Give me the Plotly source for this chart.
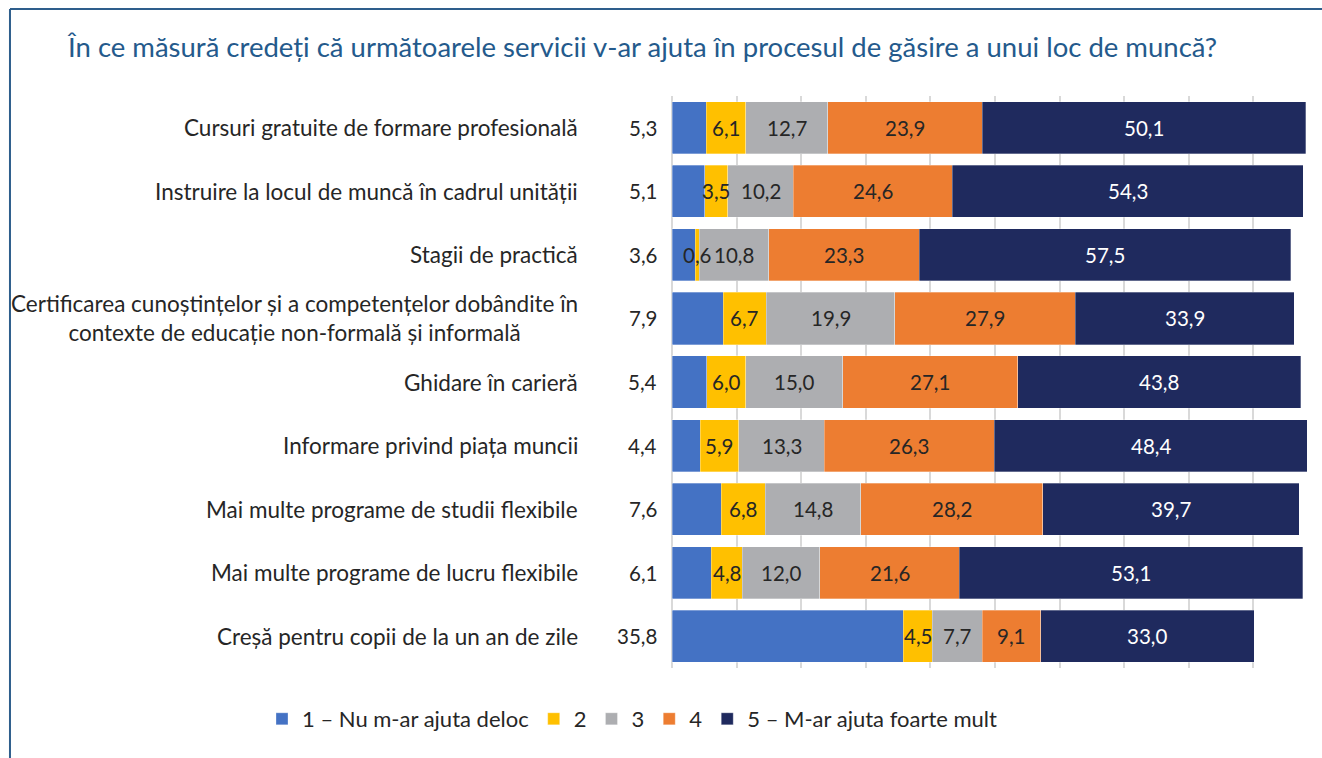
import plotly.graph_objects as go

# Survey categories (top to bottom)
categories = [
    "Cursuri gratuite de formare profesională",
    "Instruire la locul de muncă în cadrul unității",
    "Stagii de practică",
    "Certificarea cunoștințelor și a competențelor dobândite în<br>contexte de educație non-formală și informală",
    "Ghidare în carieră",
    "Informare privind piața muncii",
    "Mai multe programe de studii flexibile",
    "Mai multe programe de lucru flexibile",
    "Creșă pentru copii de la un an de zile",
]

# Share of answers (%) on each scale level
s1 = [5.3, 5.1, 3.6, 7.9, 5.4, 4.4, 7.6, 6.1, 35.8]
s2 = [6.1, 3.5, 0.6, 6.7, 6.0, 5.9, 6.8, 4.8, 4.5]
s3 = [12.7, 10.2, 10.8, 19.9, 15.0, 13.3, 14.8, 12.0, 7.7]
s4 = [23.9, 24.6, 23.3, 27.9, 27.1, 26.3, 28.2, 21.6, 9.1]
s5 = [50.1, 54.3, 57.5, 33.9, 43.8, 48.4, 39.7, 53.1, 33.0]

series_names = ["1 – Nu m-ar ajuta deloc", "2", "3", "4", "5 – M-ar ajuta foarte mult"]
series_values = [s1, s2, s3, s4, s5]
colors = ["#4472C4", "#FFC000", "#ADAEB1", "#ED7D31", "#1F2A5E"]
label_colors = ["#262626", "#262626", "#262626", "#262626", "#FFFFFF"]

title_text = "În ce măsură credeți că următoarele servicii v-ar ajuta în procesul de găsire a unui loc de muncă?"

FONT = "Lato, 'Open Sans', sans-serif"

fig = go.Figure()
for name, vals, col in zip(series_names, series_values, colors):
    fig.add_trace(go.Bar(
        y=categories, x=vals, name=name, orientation="h",
        marker=dict(color=col, line=dict(color="rgba(255,255,255,0.6)", width=0.5)),
        hoverinfo="x+name",
    ))

def fmt(v):
    return f"{v:.1f}".replace(".", ",")

annotations = []
# Category names, left of the value column
for cat in categories:
    annotations.append(dict(
        x=0, y=cat, xref="x", yref="y", text=cat, showarrow=False,
        xanchor="right", align="center", xshift=-92,
        font=dict(family=FONT, size=22.5, color="#262626"),
    ))

# Segment value labels
for k, vals in enumerate(series_values):
    for j, cat in enumerate(categories):
        start = sum(series_values[m][j] for m in range(k))
        v = vals[j]
        if k == 0:
            annotations.append(dict(
                x=0, y=cat, xref="x", yref="y", text=fmt(v), showarrow=False,
                xanchor="right", xshift=-13,
                font=dict(family=FONT, size=20.5, color="#262626"),
            ))
        else:
            annotations.append(dict(
                x=start + v / 2, y=cat, xref="x", yref="y", text=fmt(v),
                showarrow=False, xanchor="center",
                font=dict(family=FONT, size=20.5, color=label_colors[k]),
            ))

frame_color = "#2E5E8C"
shapes = [
    dict(type="line", xref="paper", yref="paper",
         x0=-1.0248, x1=1.02, y0=1.152, y1=1.152,
         line=dict(color=frame_color, width=2)),
    dict(type="line", xref="paper", yref="paper",
         x0=-1.0248, x1=-1.0248, y0=1.152, y1=-0.2,
         line=dict(color=frame_color, width=2)),
]

fig.update_layout(
    title=dict(text=title_text, xref="container", yref="container",
               x=68 / 1322, y=1 - 47 / 758, xanchor="left", yanchor="middle",
               font=dict(family=FONT, size=27.5, color="#245A8C")),
    barmode="stack",
    bargap=0.18,
    width=1322, height=758,
    margin=dict(l=672, r=4, t=96, b=90),
    paper_bgcolor="white", plot_bgcolor="white",
    font=dict(family=FONT, size=19, color="#262626"),
    xaxis=dict(range=[0, 100], dtick=10, showticklabels=False,
               showgrid=True, gridcolor="#D9D9D9", gridwidth=1.5,
               zeroline=True, zerolinecolor="#D9D9D9", zerolinewidth=1.5,
               showline=False, ticks="", fixedrange=True),
    yaxis=dict(autorange="reversed", showticklabels=False, showgrid=False,
               showline=False, ticks="", fixedrange=True),
    legend=dict(orientation="h", xref="paper", yref="paper",
                x=(262 - 672) / 646, y=-(719 - 668) / 572,
                xanchor="left", yanchor="middle",
                font=dict(family=FONT, size=22, color="#262626"),
                itemwidth=30, traceorder="normal"),
    annotations=annotations,
    shapes=shapes,
    showlegend=True,
)

fig.write_html("out.html")
